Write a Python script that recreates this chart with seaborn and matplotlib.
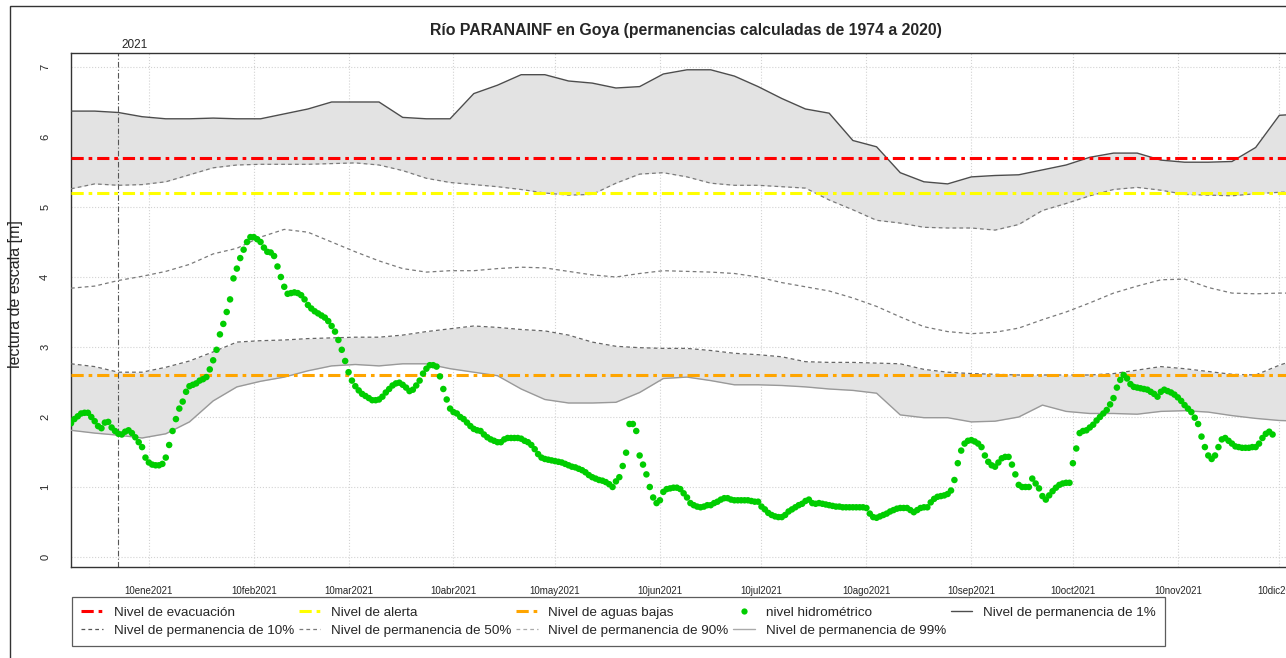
import numpy as np
import pandas as pd
import matplotlib
matplotlib.use('Agg')
import matplotlib.pyplot as plt
from matplotlib.lines import Line2D
from matplotlib.patches import Rectangle
import seaborn as sns

# permanence curves, one value per week starting 18dic2020
perm_start = '2020-12-18'
perm_1 = [6.37, 6.37, 6.35, 6.29, 6.26, 6.26, 6.27, 6.26, 6.26, 6.33, 6.40, 6.50, 6.50,
          6.50, 6.28, 6.26, 6.26, 6.62, 6.74, 6.89, 6.89, 6.80, 6.77, 6.70, 6.72, 6.90,
          6.96, 6.96, 6.87, 6.72, 6.55, 6.40, 6.34, 5.95, 5.86, 5.49, 5.36, 5.33, 5.43,
          5.45, 5.46, 5.53, 5.60, 5.71, 5.77, 5.77, 5.67, 5.64, 5.64, 5.65, 5.85, 6.31, 6.33]
perm_10 = [5.26, 5.33, 5.31, 5.32, 5.36, 5.46, 5.56, 5.60, 5.61, 5.61, 5.61, 5.62, 5.63,
           5.60, 5.52, 5.41, 5.35, 5.32, 5.29, 5.25, 5.20, 5.17, 5.18, 5.34, 5.47, 5.49,
           5.43, 5.34, 5.31, 5.31, 5.29, 5.27, 5.10, 4.96, 4.81, 4.77, 4.71, 4.70, 4.70,
           4.67, 4.75, 4.95, 5.05, 5.16, 5.25, 5.28, 5.24, 5.18, 5.17, 5.16, 5.19, 5.21, 5.22]
perm_50 = [3.84, 3.87, 3.95, 4.01, 4.08, 4.18, 4.33, 4.41, 4.57, 4.68, 4.64, 4.50, 4.36,
           4.23, 4.12, 4.07, 4.09, 4.09, 4.12, 4.14, 4.13, 4.08, 4.03, 4.00, 4.05, 4.09,
           4.08, 4.07, 4.05, 4.00, 3.92, 3.86, 3.80, 3.70, 3.58, 3.43, 3.29, 3.22, 3.19,
           3.21, 3.27, 3.39, 3.50, 3.63, 3.77, 3.87, 3.96, 3.97, 3.85, 3.77, 3.76, 3.77, 3.77]
perm_90 = [2.76, 2.72, 2.64, 2.64, 2.71, 2.80, 2.93, 3.07, 3.09, 3.10, 3.12, 3.13, 3.14,
           3.14, 3.17, 3.22, 3.26, 3.30, 3.28, 3.25, 3.23, 3.17, 3.07, 3.01, 2.99, 2.98,
           2.98, 2.95, 2.91, 2.89, 2.86, 2.79, 2.78, 2.78, 2.77, 2.76, 2.68, 2.64, 2.62,
           2.61, 2.60, 2.60, 2.60, 2.60, 2.62, 2.67, 2.72, 2.69, 2.65, 2.61, 2.60, 2.74, 2.85]
perm_99 = [1.81, 1.77, 1.74, 1.70, 1.76, 1.93, 2.23, 2.43, 2.51, 2.57, 2.66, 2.73, 2.75,
           2.73, 2.76, 2.76, 2.69, 2.64, 2.59, 2.40, 2.25, 2.20, 2.20, 2.21, 2.35, 2.55,
           2.57, 2.52, 2.46, 2.46, 2.45, 2.43, 2.40, 2.38, 2.34, 2.03, 1.99, 1.99, 1.93,
           1.94, 2.00, 2.17, 2.08, 2.05, 2.05, 2.04, 2.08, 2.09, 2.07, 2.02, 1.98, 1.95, 1.94]

# daily gauge readings starting 18dic2020
obs_start = '2020-12-18'
nivel = [
    1.91, 1.97, 2.01, 2.05, 2.06, 2.06, 2.00, 1.94, 1.87, 1.84, 1.92, 1.93, 1.85, 1.80,
    1.76, 1.75, 1.79, 1.81, 1.77, 1.71, 1.64, 1.57, 1.42, 1.35, 1.32, 1.31, 1.31, 1.33,
    1.42, 1.60, 1.80, 1.97, 2.12, 2.22, 2.36, 2.44, 2.46, 2.48, 2.52, 2.54, 2.57, 2.68,
    2.81, 2.96, 3.18, 3.33, 3.50, 3.68, 3.98, 4.12, 4.27, 4.39, 4.50, 4.57, 4.57, 4.54,
    4.50, 4.42, 4.36, 4.35, 4.30, 4.15, 4.00, 3.86, 3.76, 3.77, 3.78, 3.77, 3.74, 3.68,
    3.60, 3.55, 3.51, 3.48, 3.45, 3.42, 3.37, 3.30, 3.22, 3.10, 2.96, 2.80, 2.64, 2.52,
    2.44, 2.38, 2.33, 2.30, 2.27, 2.24, 2.24, 2.25, 2.29, 2.35, 2.40, 2.45, 2.48, 2.49,
    2.46, 2.42, 2.37, 2.39, 2.45, 2.52, 2.62, 2.69, 2.74, 2.74, 2.72, 2.58, 2.40, 2.25,
    2.12, 2.07, 2.05, 2.00, 1.97, 1.92, 1.87, 1.83, 1.81, 1.80, 1.75, 1.71, 1.68, 1.66,
    1.64, 1.64, 1.68, 1.70, 1.70, 1.70, 1.70, 1.69, 1.66, 1.64, 1.60, 1.54, 1.47, 1.42,
    1.40, 1.39, 1.38, 1.37, 1.36, 1.35, 1.33, 1.31, 1.29, 1.28, 1.26, 1.24, 1.21, 1.17,
    1.14, 1.12, 1.10, 1.09, 1.07, 1.04, 1.00, 1.08, 1.14, 1.30, 1.49, 1.90, 1.90, 1.80,
    1.45, 1.32, 1.18, 1.00, 0.85, 0.77, 0.81, 0.93, 0.97, 0.98, 0.99, 0.99, 0.97, 0.91,
    0.85, 0.77, 0.74, 0.72, 0.71, 0.72, 0.74, 0.74, 0.77, 0.79, 0.82, 0.84, 0.84, 0.82,
    0.81, 0.81, 0.81, 0.81, 0.81, 0.80, 0.79, 0.79, 0.72, 0.68, 0.63, 0.60, 0.58, 0.57,
    0.57, 0.60, 0.65, 0.68, 0.71, 0.74, 0.76, 0.80, 0.82, 0.77, 0.76, 0.77, 0.76, 0.75,
    0.74, 0.73, 0.72, 0.72, 0.71, 0.71, 0.71, 0.71, 0.71, 0.71, 0.71, 0.70, 0.62, 0.57,
    0.56, 0.58, 0.60, 0.62, 0.65, 0.67, 0.69, 0.70, 0.70, 0.70, 0.67, 0.64, 0.67, 0.70,
    0.71, 0.71, 0.78, 0.83, 0.86, 0.87, 0.88, 0.90, 0.95, 1.10, 1.34, 1.52, 1.62, 1.66,
    1.67, 1.65, 1.62, 1.57, 1.45, 1.36, 1.31, 1.29, 1.35, 1.41, 1.43, 1.43, 1.32, 1.18,
    1.03, 1.00, 1.00, 1.00, 1.12, 1.05, 0.98, 0.87, 0.82, 0.88, 0.94, 0.99, 1.03, 1.05,
    1.06, 1.06, 1.34, 1.55, 1.77, 1.80, 1.81, 1.85, 1.89, 1.95, 2.00, 2.05, 2.10, 2.18,
    2.27, 2.42, 2.53, 2.60, 2.55, 2.47, 2.43, 2.42, 2.41, 2.40, 2.39, 2.36, 2.33, 2.29,
    2.36, 2.39, 2.37, 2.35, 2.32, 2.28, 2.23, 2.17, 2.12, 2.07, 1.99, 1.90, 1.72, 1.57,
    1.45, 1.40, 1.45, 1.57, 1.68, 1.70, 1.66, 1.62, 1.58, 1.57, 1.56, 1.56, 1.56, 1.57,
    1.57, 1.62, 1.70, 1.76, 1.79, 1.75]

nivel_evacuacion = 5.7
nivel_alerta = 5.2
nivel_aguas_bajas = 2.6

mes_labels = ['10ene2021', '10feb2021', '10mar2021', '10abr2021', '10may2021', '10jun2021',
              '10jul2021', '10ago2021', '10sep2021', '10oct2021', '10nov2021', '10dic2021']
y_ticks = [0, 1, 2, 3, 4, 5, 6, 7]

perm = pd.DataFrame({
    'fecha': pd.date_range(perm_start, periods=len(perm_1), freq='7D'),
    'p1': perm_1, 'p10': perm_10, 'p50': perm_50, 'p90': perm_90, 'p99': perm_99,
})
obs = pd.DataFrame({
    'fecha': pd.date_range(obs_start, periods=len(nivel), freq='D'),
    'nivel': nivel,
})
mes_fechas = [pd.Timestamp(2021, m, 10) for m in range(1, 13)]

sns.set_style('white')
plt.rcParams['font.family'] = ['Liberation Sans', 'DejaVu Sans']

W, H = 1286, 658
fig = plt.figure(figsize=(W / 100, H / 100), dpi=100)
ax = fig.add_axes([71 / W, (H - 567) / H, (1300 - 71) / W, (567 - 53) / H])

# shaded bands
ax.fill_between(perm['fecha'], perm['p10'], perm['p1'], color='#e3e3e3', lw=0, zorder=1)
ax.fill_between(perm['fecha'], perm['p99'], perm['p90'], color='#e3e3e3', lw=0, zorder=1)

# permanence lines
sns.lineplot(data=perm, x='fecha', y='p1', ax=ax, color='#4d4d4d', lw=1.0, zorder=3)
sns.lineplot(data=perm, x='fecha', y='p10', ax=ax, color='#7a7a7a', lw=0.9,
             linestyle=(0, (3, 2.5)), zorder=3)
sns.lineplot(data=perm, x='fecha', y='p50', ax=ax, color='#7a7a7a', lw=0.9,
             linestyle=(0, (3, 2.5)), zorder=3)
sns.lineplot(data=perm, x='fecha', y='p90', ax=ax, color='#666666', lw=0.9,
             linestyle=(0, (3, 2.5)), zorder=3)
sns.lineplot(data=perm, x='fecha', y='p99', ax=ax, color='#999999', lw=1.0, zorder=3)

# reference levels
dashdot = (0, (4, 1.6, 1.2, 1.6))
ax.axhline(nivel_evacuacion, color='red', lw=2.2, linestyle=dashdot, zorder=4)
ax.axhline(nivel_alerta, color='yellow', lw=2.2, linestyle=dashdot, zorder=4)
ax.axhline(nivel_aguas_bajas, color='orange', lw=2.2, linestyle=dashdot, zorder=4)

# observed levels
sns.scatterplot(data=obs, x='fecha', y='nivel', ax=ax, color='#00cd00', s=22,
                edgecolor='none', linewidth=0, zorder=5)

# start of year marker
ax.axvline(pd.Timestamp('2021-01-01'), color='#555555', lw=0.8,
           linestyle=(0, (5, 2, 1, 2)), zorder=2)
ax.text(pd.Timestamp('2021-01-02'), 7.23, '2021', fontsize=8.5, ha='left', va='bottom')

ax.set_xlim(pd.Timestamp(perm_start), pd.Timestamp(perm_start) + pd.Timedelta(days=363.1))
ax.set_ylim(-0.143, 7.2)
ax.set_xticks(mes_fechas)
ax.set_xticklabels(mes_labels, fontsize=7)
ax.set_yticks(y_ticks)
ax.set_yticklabels([str(v) for v in y_ticks], fontsize=8, rotation=90, va='center')
ax.tick_params(axis='x', length=7, width=0.8, pad=7, color='#333333')
ax.tick_params(axis='y', length=7, width=0.8, pad=8, color='#333333')
ax.grid(True, color='#d3d3d3', lw=0.8, linestyle=':')
ax.set_axisbelow(True)
for sp in ax.spines.values():
    sp.set_color('#333333')
    sp.set_linewidth(1.0)
ax.set_xlabel('')
ax.set_ylabel('')

fig.text(16 / W, (H - 294) / H, 'lectura de escala [m]', rotation=90, fontsize=11.5,
         ha='center', va='center')
fig.text(686 / W, (H - 30) / H,
         'Río PARANAINF en Goya (permanencias calculadas de 1974 a 2020)',
         fontsize=11.4, fontweight='bold', ha='center', va='center')

# outer frame
fig.patches.append(Rectangle((10 / W, -0.05), 1.2, (H - 6) / H + 0.05,
                             transform=fig.transFigure, fill=False,
                             edgecolor='#333333', lw=1.0))

# legend, column-wise order to get the two rows of the reference
lh = [
    Line2D([], [], color='red', lw=2.2, linestyle=dashdot),
    Line2D([], [], color='#555555', lw=0.9, linestyle=(0, (3, 2.5))),
    Line2D([], [], color='yellow', lw=2.2, linestyle=dashdot),
    Line2D([], [], color='#7a7a7a', lw=0.9, linestyle=(0, (3, 2.5))),
    Line2D([], [], color='orange', lw=2.2, linestyle=dashdot),
    Line2D([], [], color='#aaaaaa', lw=0.9, linestyle=(0, (3, 2.5))),
    Line2D([], [], color='#00cd00', lw=0, marker='o', markersize=4.5, markeredgewidth=0),
    Line2D([], [], color='#aaaaaa', lw=1.0),
    Line2D([], [], color='#4d4d4d', lw=1.0),
]
ll = ['Nivel de evacuación', 'Nivel de permanencia de 10%', 'Nivel de alerta',
      'Nivel de permanencia de 50%', 'Nivel de aguas bajas', 'Nivel de permanencia de 90%',
      'nivel hidrométrico', 'Nivel de permanencia de 99%', 'Nivel de permanencia de 1%']
leg = fig.legend(lh, ll, ncol=5, loc='upper left', bbox_to_anchor=(72 / W, (H - 597) / H),
                 fontsize=9.7, frameon=True, fancybox=False, handlelength=1.6,
                 handletextpad=0.8, columnspacing=0.35, labelspacing=0.4,
                 borderpad=0.7, borderaxespad=0)
leg.get_frame().set_edgecolor('#333333')
leg.get_frame().set_linewidth(0.9)

fig.savefig('out.png', dpi=100)
